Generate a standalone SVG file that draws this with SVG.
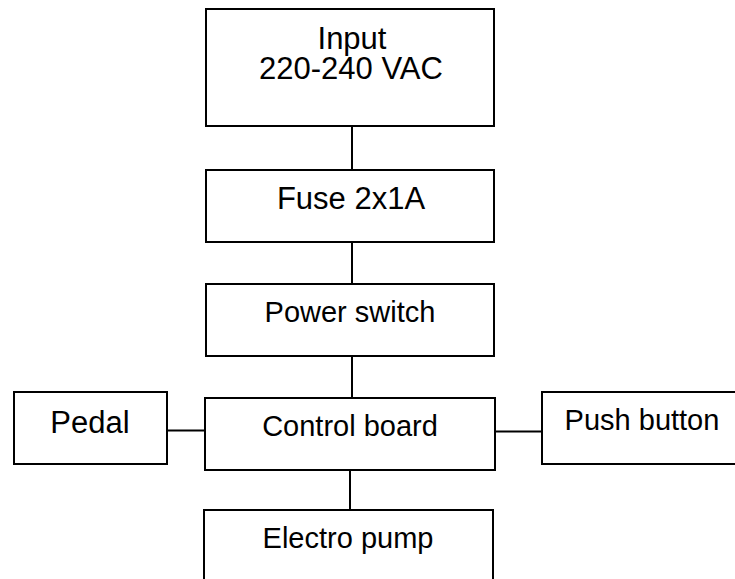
<svg xmlns="http://www.w3.org/2000/svg" width="735" height="579" viewBox="0 0 735 579">
<style>
.box{fill:#fff;stroke:#000;stroke-width:2}
.ln{stroke:#000;stroke-width:2;fill:none}
text{font-family:"Liberation Sans",Arial,sans-serif;fill:#000;text-anchor:middle}
.lg{font-size:31px}
.md{font-size:29px}
</style>
<rect width="735" height="579" fill="#fff"/>
<g id="connectors">
<line class="ln" x1="352" y1="126" x2="352" y2="170"/>
<line class="ln" x1="352" y1="242" x2="352" y2="284"/>
<line class="ln" x1="352" y1="356" x2="352" y2="398"/>
<line class="ln" x1="167" y1="430.5" x2="205" y2="430.5"/>
<line class="ln" x1="495" y1="431.5" x2="542" y2="431.5"/>
<line class="ln" x1="350" y1="470" x2="350" y2="510"/>
</g>
<g id="input">
<rect class="box" x="206" y="9" width="288" height="117"/>
<text class="lg" x="352" y="49">Input</text>
<text class="lg" x="351" y="79">220-240 VAC</text>
</g>
<g id="fuse">
<rect class="box" x="206" y="170" width="288" height="72"/>
<text class="lg" x="351" y="209">Fuse 2x1A</text>
</g>
<g id="power">
<rect class="box" x="206" y="284" width="288" height="72"/>
<text class="md" x="350" y="322">Power switch</text>
</g>
<g id="pedal">
<rect class="box" x="14" y="392" width="153" height="72"/>
<text class="lg" x="90" y="433">Pedal</text>
</g>
<g id="control">
<rect class="box" x="205" y="398" width="290" height="72"/>
<text class="md" x="350" y="436">Control board</text>
</g>
<g id="push">
<rect class="box" x="542" y="392" width="196" height="72"/>
<text class="md" x="642" y="430">Push button</text>
</g>
<g id="pump">
<rect class="box" x="204" y="510" width="289" height="80"/>
<text class="md" x="348" y="548">Electro pump</text>
</g>
</svg>
